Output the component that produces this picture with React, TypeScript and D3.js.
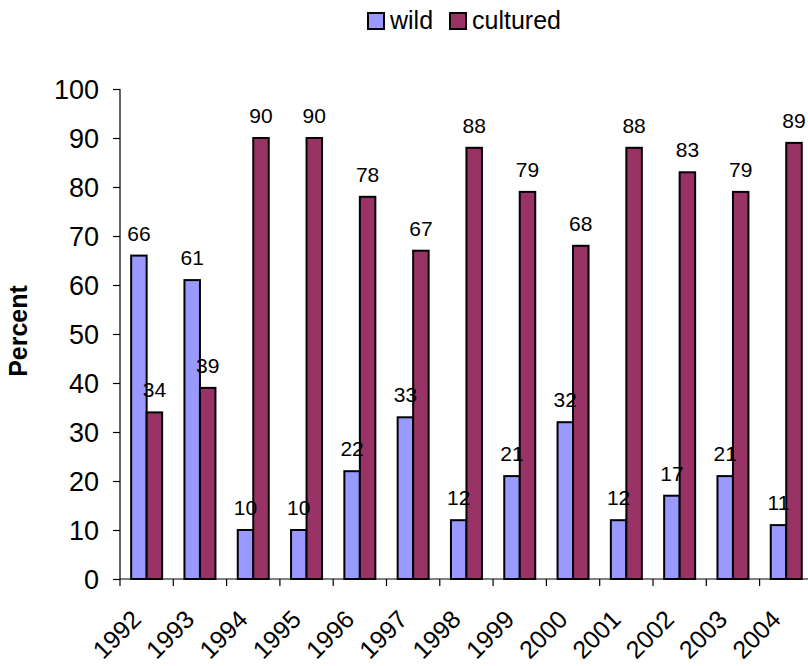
import { useEffect, useRef } from "react"
import * as d3 from "d3"

const years = ["1992", "1993", "1994", "1995", "1996", "1997", "1998", "1999", "2000", "2001", "2002", "2003", "2004"]
const wild = [66, 61, 10, 10, 22, 33, 12, 21, 32, 12, 17, 21, 11]
const cultured = [34, 39, 90, 90, 78, 67, 88, 79, 68, 88, 83, 79, 89]
const seriesNames = ["wild", "cultured"]
const seriesColors = ["#9999FF", "#993366"]
const yTicks = [0, 10, 20, 30, 40, 50, 60, 70, 80, 90, 100]

const W = 808
const H = 666
const FONT = "'Liberation Sans', Arial, sans-serif"

export default function App() {
  const svgRef = useRef<SVGSVGElement>(null)

  useEffect(() => {
    const svg = d3.select(svgRef.current!)
    svg.selectAll("*").remove()

    const left = 120
    const top = 89
    const bottom = 579
    const catW = 53.3
    const right = left + catW * years.length

    const x = d3.scaleBand<string>().domain(years).range([left, right]).paddingInner(0).paddingOuter(0)
    const inner = d3.scaleBand<string>().domain(seriesNames).range([0, x.bandwidth()]).paddingInner(0).paddingOuter(0.72)
    const y = d3.scaleLinear().domain([0, 100]).range([bottom, top])

    const g = svg.append("g")

    // y axis
    const yAxis = g.append("g").attr("transform", `translate(${left},0)`)
      .call(d3.axisLeft(y).tickValues(yTicks).tickSize(7).tickPadding(14))
    yAxis.select(".domain").attr("stroke", "#000").attr("stroke-width", 1.2)
      .attr("d", `M0,${top}V${bottom}`)
    yAxis.selectAll(".tick line").attr("stroke", "#000").attr("stroke-width", 1.2)
    yAxis.selectAll(".tick text").attr("font-family", FONT).attr("font-size", 27).attr("fill", "#000")
      .attr("dy", "0.35em")

    // x axis
    const xAxis = g.append("g").attr("transform", `translate(0,${bottom})`)
    xAxis.append("line").attr("x1", left).attr("x2", right).attr("stroke", "#000").attr("stroke-width", 1.2)
    const tickPos = d3.range(years.length + 1).map((i) => left + i * catW)
    xAxis.selectAll("line.tk").data(tickPos).enter().append("line").attr("class", "tk")
      .attr("x1", (d) => d).attr("x2", (d) => d).attr("y1", 0).attr("y2", 7)
      .attr("stroke", "#000").attr("stroke-width", 1.2)
    xAxis.selectAll("text").data(years).enter().append("text")
      .attr("transform", (d) => `translate(${x(d)! + x.bandwidth() / 2 - 4},42) rotate(-45)`)
      .attr("text-anchor", "end")
      .attr("font-family", FONT).attr("font-size", 25).attr("fill", "#000")
      .text((d) => d)

    // bars
    const rows = years.map((yr, i) => ({ yr, vals: [wild[i], cultured[i]] }))
    const grp = g.selectAll("g.cat").data(rows).enter().append("g").attr("class", "cat")
      .attr("transform", (d) => `translate(${x(d.yr)},0)`)
    grp.selectAll("rect").data((d) => d.vals.map((v, k) => ({ v, k }))).enter().append("rect")
      .attr("x", (d) => inner(seriesNames[d.k])!)
      .attr("width", inner.bandwidth())
      .attr("y", (d) => y(d.v))
      .attr("height", (d) => bottom - y(d.v))
      .attr("fill", (d) => seriesColors[d.k])
      .attr("stroke", "#000").attr("stroke-width", 2)
    grp.selectAll("text").data((d) => d.vals.map((v, k) => ({ v, k }))).enter().append("text")
      .attr("x", (d) => inner(seriesNames[d.k])! + inner.bandwidth() / 2)
      .attr("y", (d) => y(d.v) - 15)
      .attr("text-anchor", "middle")
      .attr("font-family", FONT).attr("font-size", 21).attr("fill", "#000")
      .text((d) => d.v)

    // y title
    svg.append("text")
      .attr("transform", `translate(27,331) rotate(-90)`)
      .attr("text-anchor", "middle")
      .attr("font-family", FONT).attr("font-size", 25).attr("font-weight", "bold").attr("fill", "#000")
      .text("Percent")

    // legend
    const lg = svg.append("g")
    const items = [
      { name: seriesNames[0], color: seriesColors[0], x: 368 },
      { name: seriesNames[1], color: seriesColors[1], x: 450 },
    ]
    items.forEach((it) => {
      lg.append("rect").attr("x", it.x).attr("y", 13).attr("width", 16).attr("height", 16)
        .attr("fill", it.color).attr("stroke", "#000").attr("stroke-width", 2)
      lg.append("text").attr("x", it.x + 22).attr("y", 29)
        .attr("font-family", FONT).attr("font-size", 25).attr("fill", "#000")
        .text(it.name)
    })
  }, [])

  return (
    <div style={{ position: "absolute", left: 0, top: 0 }}>
      <svg ref={svgRef} width={W} height={H} style={{ display: "block", background: "#fff" }} />
    </div>
  )
}
